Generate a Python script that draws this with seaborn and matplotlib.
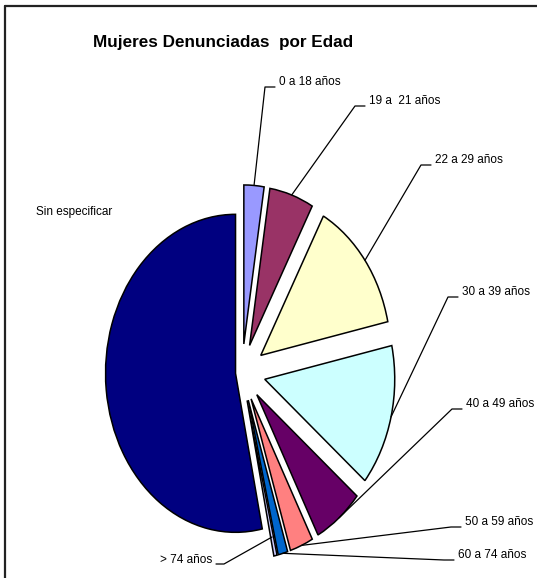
import matplotlib
matplotlib.use('Agg')
import numpy as np
import matplotlib.pyplot as plt
import seaborn as sns
from matplotlib.lines import Line2D

# data (percent of total)
grupos = ['0 a 18 años', '19 a  21 años', '22 a 29 años', '30 a 39 años', '40 a 49 años',
          '50 a 59 años', '60 a 74 años', '> 74 años', 'Sin especificar']
porcentajes = [2.5, 5.5, 13.6, 14.4, 6.2, 2.9, 1.2, 0.4, 53.3]
colores = ['#9999FF', '#993366', '#FFFFCC', '#CCFFFF', '#660066',
           '#FF8080', '#0066CC', '#CCCCFF', '#000080']
separacion = [0.18, 0.18, 0.18, 0.18, 0.18, 0.18, 0.18, 0.18, 0.05]

# layout (pixels of the 537x578 picture)
W, H = 537, 578
CX, CY, RX, RY = 242, 372.5, 130, 159
pos_etiquetas = [(279, 82), (369, 101), (435, 160), (462, 292), (466, 404),
                 (465, 522), (458, 555), (212, 560), (36, 212)]
lado = ['r', 'r', 'r', 'r', 'r', 'r', 'r', 'l', None]
radio_ancla = [1, 1, 1, 1, 1, 1, 1, 0.88, 1]

sns.set_theme(style='white')
plt.rcParams['font.family'] = ['Liberation Sans', 'DejaVu Sans']
plt.rcParams['text.color'] = 'black'


def px(x, y):
    return (x - CX) / RX, (CY - y) / RY


fig = plt.figure(figsize=(W / 100, H / 100), dpi=100)
ax = fig.add_axes([0, 0, 1, 1])
wedges, _ = ax.pie(porcentajes, colors=colores, explode=separacion, startangle=90,
                   counterclock=False, wedgeprops=dict(edgecolor='black', linewidth=1.1))
ax.set_aspect('auto')
ax.set_xlim(-CX / RX, (W - CX) / RX)
ax.set_ylim((CY - H) / RY, CY / RY)
ax.axis('off')

for w, txt, (tx, ty), s, ra in zip(wedges, grupos, pos_etiquetas, lado, radio_ancla):
    if s is None:
        ax.text(*px(tx, ty), txt, ha='left', va='center', fontsize=8.5, color='black')
        continue
    mid = np.deg2rad((w.theta1 + w.theta2) / 2)
    ancla = (w.center[0] + ra * w.r * np.cos(mid), w.center[1] + ra * w.r * np.sin(mid))
    if s == 'r':
        codo = px(tx - 14, ty + 5)
        fin = px(tx - 4, ty + 5)
        ha = 'left'
    else:
        codo = px(tx + 12, ty + 4)
        fin = px(tx + 4, ty + 4)
        ha = 'right'
    ax.plot([ancla[0], codo[0], fin[0]], [ancla[1], codo[1], fin[1]], color='black', lw=0.9)
    ax.text(*px(tx, ty), txt, ha=ha, va='center', fontsize=8.5, color='black')

ax.text(*px(93, 43), 'Mujeres Denunciadas  por Edad', ha='left', va='center',
        fontsize=12.3, fontweight='bold', color='black')

# chart frame (only top and left edges are visible)
fig.add_artist(Line2D([5 / W, 5 / W], [0, 1 - 6 / H], color='#222222', lw=1.6))
fig.add_artist(Line2D([5 / W, 1], [1 - 6 / H, 1 - 6 / H], color='#222222', lw=1.6))

fig.savefig('out.png', dpi=100)
